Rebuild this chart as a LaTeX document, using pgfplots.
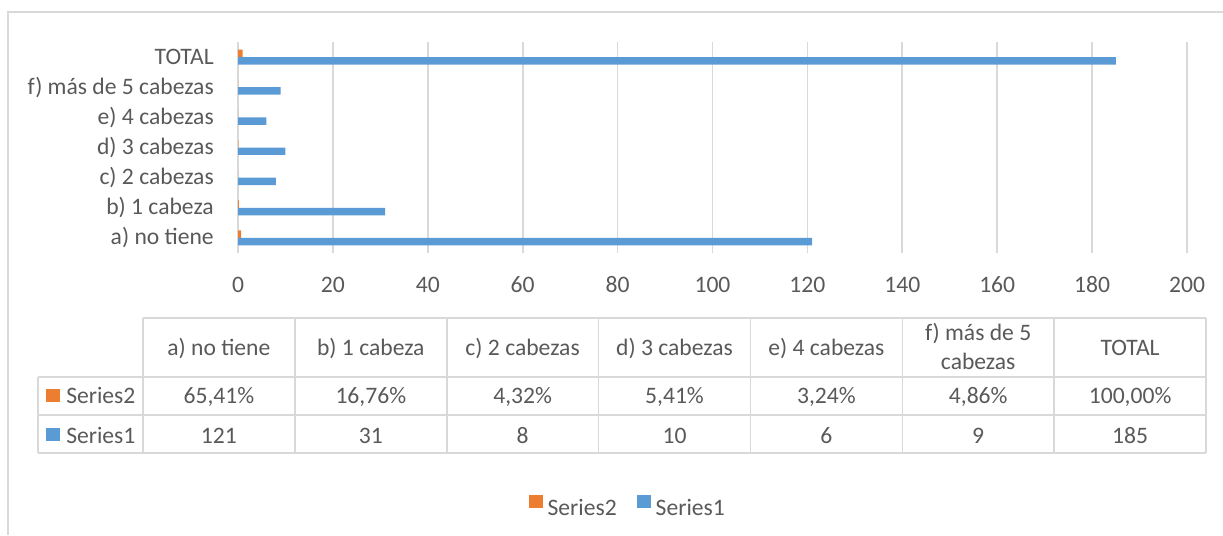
\documentclass[border=0pt]{standalone}
\usepackage{fontspec}
\setmainfont{Carlito}
\usepackage{pgfplots}
\pgfplotsset{compat=1.18}
\definecolor{s1}{HTML}{5B9BD5}
\definecolor{s2}{HTML}{ED7D31}
\definecolor{txt}{HTML}{595959}
\definecolor{grd}{HTML}{D9D9D9}
\newcommand{\cf}{\fontsize{17.7}{21}\selectfont}
\begin{document}
\begin{tikzpicture}[x=0.75pt,y=-0.75pt]
\path[use as bounding box] (0,0) rectangle (1223,535);
\draw[grd, line width=1pt] (8,535) -- (8,12) -- (1223,12);
\begin{axis}[
  at={(178.5pt,-189.75pt)}, anchor=south west,
  scale only axis, width=711.75pt, height=158.25pt,
  xmin=0, xmax=200, ymin=-0.5, ymax=6.5,
  xtick={0,20,...,200}, ytick={0,...,6},
  yticklabels={a) no tiene, b) 1 cabeza, c) 2 cabezas, d) 3 cabezas, e) 4 cabezas, f) más de 5 cabezas, TOTAL},
  xmajorgrids, major grid style={grd, line width=1.3pt},
  axis line style={draw=none}, major tick style={draw=none},
  /pgf/number format/assume math mode=true,
  tick label style={font=\cf, text=txt},
  xticklabel style={anchor=base, yshift=-29.6pt},
  yticklabel style={anchor=base east, xshift=-18pt, yshift=-5.25pt, inner sep=0pt},
  legend style={at={(rel axis cs:0.4125,-1.199)}, anchor=center, draw=none, fill=none,
    font=\cf, text=txt, inner sep=0pt,
    nodes={inner xsep=3.5pt, inner ysep=0pt},
    /tikz/every even column/.append style={column sep=12pt}},
  legend columns=2,
]
\addplot[xbar, fill=s2, draw=none, bar width=5.6pt, bar shift=2.8pt,
  legend image code/.code={\fill[s2] (0pt,0pt) rectangle (10.2pt,10pt);}]
  coordinates {(0.6541,0) (0.1676,1) (0.0432,2) (0.0541,3) (0.0324,4) (0.0486,5) (1.0,6)};
\addlegendentry{Series2}
\addplot[xbar, fill=s1, draw=none, bar width=5.6pt, bar shift=-2.8pt,
  legend image code/.code={\fill[s1] (0pt,0pt) rectangle (10.2pt,10pt);}]
  coordinates {(121,0) (31,1) (8,2) (10,3) (6,4) (9,5) (185,6)};
\addlegendentry{Series1}
\end{axis}
% data table
\begin{scope}[grd, line width=1.2pt]
\draw (143,318) -- (1206,318);
\foreach \y in {377,415,453} \draw (38,\y) -- (1206,\y);
\draw (38,377) -- (38,453);
\foreach \x in {143,294.86,446.71,598.57,750.43,902.29,1054.14,1206} \draw (\x,318) -- (\x,453);
\end{scope}
\begin{scope}[every node/.style={anchor=base, text=txt, font=\cf, inner sep=0pt}]
\node at (218.9,355) {a) no tiene};
\node at (370.8,355) {b) 1 cabeza};
\node at (522.6,355) {c) 2 cabezas};
\node at (674.5,355) {d) 3 cabezas};
\node at (826.4,355) {e) 4 cabezas};
\node at (978.2,340.5) {f) más de 5};
\node at (978.2,369) {cabezas};
\node at (1130.1,355) {TOTAL};
\node at (218.9,403) {65,41\%};
\node at (370.8,403) {16,76\%};
\node at (522.6,403) {4,32\%};
\node at (674.5,403) {5,41\%};
\node at (826.4,403) {3,24\%};
\node at (978.2,403) {4,86\%};
\node at (1130.1,403) {100,00\%};
\node at (218.9,443) {121};
\node at (370.8,443) {31};
\node at (522.6,443) {8};
\node at (674.5,443) {10};
\node at (826.4,443) {6};
\node at (978.2,443) {9};
\node at (1130.1,443) {185};
\node[anchor=base west] at (66,403) {Series2};
\node[anchor=base west] at (66,443) {Series1};
\end{scope}
\fill[s2] (46,389) rectangle (60,402);
\fill[s1] (46,428) rectangle (60,441);
\end{tikzpicture}
\end{document}
